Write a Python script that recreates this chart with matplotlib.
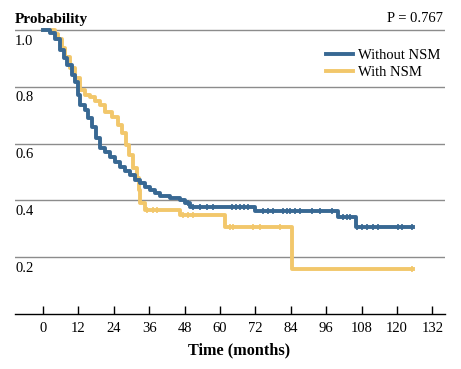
import numpy as np
import matplotlib.pyplot as plt

plt.rcParams['font.family'] = ['Liberation Serif', 'DejaVu Serif']
plt.rcParams['font.size'] = 10

# Kaplan-Meier steps (time in months, survival probability)
t_without = [0, 2.4, 4.1, 5.8, 7.1, 8.1, 9.8, 10.8, 11.9, 12.5, 14.2, 15.3, 16.6, 18.0,
             19.3, 21.0, 22.7, 24.4, 26.1, 27.8, 29.5, 31.2, 32.9, 34.6, 36.3, 38.0,
             39.7, 43.0, 46.4, 48.1, 49.8, 72.0, 100.0, 106.0, 125.4]
s_without = [1.0, 0.99, 0.97, 0.93, 0.90, 0.877, 0.84, 0.817, 0.77, 0.736, 0.718, 0.69,
             0.658, 0.62, 0.585, 0.57, 0.553, 0.535, 0.518, 0.504, 0.49, 0.472, 0.461,
             0.447, 0.437, 0.426, 0.415, 0.408, 0.401, 0.39, 0.378, 0.362, 0.340, 0.305, 0.305]
cens_t_without = [49.2, 50.8, 53.2, 55.6, 57.6, 64.1, 65.4, 66.8, 68.1, 69.5,
                  74.6, 76.3, 78.0, 81.4, 82.7, 83.7, 85.4, 87.1, 91.2, 93.9, 98.0,
                  101.7, 103.0, 104.1,
                  106.4, 108.1, 109.8, 111.9, 113.6, 120.3, 121.7, 125.1]

t_with = [0, 4.1, 5.1, 6.4, 7.5, 9.2, 10.8, 12.5, 14.2, 16.0, 17.6, 19.3, 21.0, 23.4,
          25.4, 26.8, 28.1, 29.2, 30.5, 31.9, 32.5, 32.9, 34.6, 46.4, 61.7, 84.4, 125.4]
s_with = [1.0, 0.985, 0.97, 0.937, 0.905, 0.866, 0.83, 0.79, 0.772, 0.764, 0.75, 0.736,
          0.71, 0.694, 0.665, 0.637, 0.595, 0.56, 0.514, 0.479, 0.437, 0.39, 0.366, 0.349,
          0.306, 0.158, 0.158]
cens_t_with = [35.3, 37.3, 38.6, 47.5, 49.2, 50.8, 63.4, 64.4, 71.2, 73.6, 80.3, 125.1]

xticks = np.arange(0, 133, 12)
yticks = [0.2, 0.4, 0.6, 0.8, 1.0]

blue = '#386893'
yellow = '#f2c76b'


def surv_at(t_steps, s_steps, times):
    idx = np.searchsorted(t_steps, times, side='right') - 1
    return np.array(s_steps)[idx]


fig = plt.figure(figsize=(4.61, 3.69), dpi=100)
ax = fig.add_axes([15/461, 55/369, 430/461, 289.7/369])
ax.set_xlim(-9.5, 136.3)
ax.set_ylim(0, 1.02)

for y in yticks:
    ax.axhline(y, color='#8c8c8c', lw=1.0, zorder=1)
    ax.text(0.0, y - 0.039, f'{y:.1f}', transform=ax.get_yaxis_transform(),
            ha='left', va='center', fontsize=10.5)

ax.step(t_with, s_with, where='post', color=yellow, lw=2.8, label='With NSM', zorder=3)
ax.plot(cens_t_with, surv_at(t_with, s_with, cens_t_with), ls='none', marker='|',
        ms=5, mew=1.2, color=yellow, zorder=3)
ax.step(t_without, s_without, where='post', color=blue, lw=2.8, label='Without NSM', zorder=4)
ax.plot(cens_t_without, surv_at(t_without, s_without, cens_t_without), ls='none',
        marker='|', ms=5, mew=1.2, color=blue, zorder=4)

for side in ['left', 'right', 'top']:
    ax.spines[side].set_visible(False)
ax.spines['bottom'].set_linewidth(1.0)
ax.set_yticks([])
ax.set_xticks(xticks)
ax.tick_params(axis='x', direction='in', length=6, width=1, labelsize=10.5, pad=6)

handles, labels = ax.get_legend_handles_labels()
ax.legend(handles[::-1], labels[::-1], loc='upper right', bbox_to_anchor=(446/461, 1 - 43/369),
          bbox_transform=fig.transFigure, frameon=False, handlelength=1.9,
          handletextpad=0.3, labelspacing=0.28, fontsize=10.5, borderaxespad=0)

fig.text(15/461, 1 - 19/369, 'Probability', fontweight='bold', fontsize=11,
         ha='left', va='center')
fig.text(443/461, 1 - 19/369, 'P = 0.767', fontsize=10.5, ha='right', va='center')
fig.text(239/461, 1 - 350/369, 'Time (months)', fontweight='bold', fontsize=11.7,
         ha='center', va='center')

fig.savefig('out.png', dpi=100)
